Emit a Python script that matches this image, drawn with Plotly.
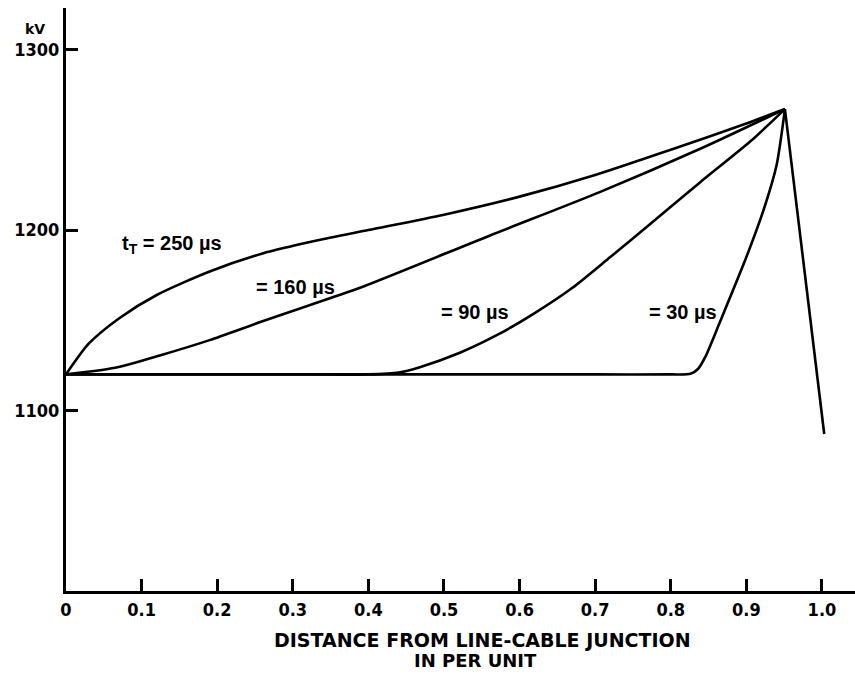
import plotly.graph_objects as go

# Voltage profile along the line for several tail times (kV vs per-unit distance)
x_250 = [0, 0.03, 0.07, 0.12, 0.19, 0.26, 0.33, 0.4, 0.5, 0.6, 0.7, 0.8, 0.9, 0.951]
v_250 = [1120, 1137, 1151, 1164, 1177, 1187, 1194, 1200, 1208.5, 1218.5, 1230.5, 1244.5, 1259, 1267]

x_160 = [0, 0.063, 0.124, 0.19, 0.257, 0.323, 0.389, 0.561, 0.706, 0.839, 0.951]
v_160 = [1120, 1123.5, 1130.5, 1139, 1149, 1158.5, 1168, 1197, 1221, 1245, 1267]

x_90 = [0, 0.1, 0.2, 0.3, 0.4, 0.44, 0.468, 0.521, 0.571, 0.62, 0.67, 0.72, 0.772, 0.839, 0.905, 0.951]
v_90 = [1120, 1120, 1120, 1120, 1120, 1121, 1124, 1132, 1142, 1154, 1168, 1185, 1203, 1226.5, 1249, 1267]

x_30 = [0, 0.1, 0.2, 0.3, 0.4, 0.5, 0.6, 0.7, 0.8, 0.826, 0.836, 0.846, 0.865, 0.9, 0.925, 0.94, 0.951]
v_30 = [1120, 1120, 1120, 1120, 1120, 1120, 1120, 1120, 1120, 1120.3, 1123, 1130, 1149, 1185, 1214, 1236, 1267]

# common fall beyond the crest
x_fall = [0.951, 1.003]
v_fall = [1267, 1087]

curve_labels = ["t<sub>T</sub> = 250 µs", "= 160 µs", "= 90 µs", "= 30 µs"]
label_x = [0.0714, 0.304, 0.541, 0.816]
label_v = [1192, 1168.6, 1154.8, 1154.8]

x_ticks = [0, 0.1, 0.2, 0.3, 0.4, 0.5, 0.6, 0.7, 0.8, 0.9, 1.0]
x_ticktext = ["0", "0.1", "0.2", "0.3", "0.4", "0.5", "0.6", "0.7", "0.8", "0.9", "1.0"]
v_ticks = [1100, 1200, 1300]
v_ticktext = ["1100", "1200", "1300"]

fig = go.Figure()
line_style = dict(color="black", width=2.6, shape="spline", smoothing=0.7)
for xs, vs in [(x_250, v_250), (x_160, v_160), (x_90, v_90), (x_30, v_30)]:
    fig.add_trace(go.Scatter(x=xs, y=vs, mode="lines", line=line_style,
                             showlegend=False, hoverinfo="skip"))
fig.add_trace(go.Scatter(x=x_fall, y=v_fall, mode="lines",
                         line=dict(color="black", width=2.6),
                         showlegend=False, hoverinfo="skip"))

for i, (txt, lx, lv) in enumerate(zip(curve_labels, label_x, label_v)):
    fig.add_annotation(x=lx, y=lv, text=txt, showarrow=False,
                       xanchor="left" if i == 0 else "center", yanchor="middle",
                       font=dict(family="Liberation Sans, Arial, sans-serif",
                                 size=20, color="black", weight="bold"))

tick_font = dict(family="Liberation Sans Narrow, DejaVu Sans Condensed, sans-serif",
                 size=18, color="black", weight="bold")

fig.update_xaxes(range=[0, 1.0437], showline=True, linewidth=3, linecolor="black",
                 showgrid=False, zeroline=False,
                 tickvals=x_ticks, ticktext=x_ticktext,
                 ticks="inside", ticklen=12, tickwidth=2.5, tickcolor="black",
                 tickfont=tick_font)
fig.update_yaxes(range=[1000, 1323], showline=True, linewidth=3, linecolor="black",
                 showgrid=False, zeroline=False,
                 tickvals=v_ticks, ticktext=v_ticktext,
                 ticks="inside", ticklen=12, tickwidth=2.5, tickcolor="black",
                 tickfont=tick_font)

fig.add_annotation(xref="paper", yref="paper", x=(482 - 66) / 789, y=-49 / 583,
                   text="DISTANCE FROM LINE-CABLE JUNCTION", showarrow=False,
                   xanchor="center", yanchor="middle",
                   font=dict(family="DejaVu Sans, sans-serif", size=19,
                             color="black", weight="bold"))
fig.add_annotation(xref="paper", yref="paper", x=(475 - 66) / 789, y=-69 / 583,
                   text="IN PER UNIT", showarrow=False,
                   xanchor="center", yanchor="middle",
                   font=dict(family="DejaVu Sans, sans-serif", size=18,
                             color="black", weight="bold"))
fig.add_annotation(xref="paper", yref="paper", x=-31 / 789, y=(591 - 29) / 583,
                   text="kV", showarrow=False, xanchor="center", yanchor="middle",
                   font=dict(family="DejaVu Sans, sans-serif", size=14,
                             color="black", weight="bold"))

fig.update_layout(width=855, height=686,
                  margin=dict(l=66, r=0, t=8, b=95),
                  paper_bgcolor="white", plot_bgcolor="white")

fig.write_html("out.html")
